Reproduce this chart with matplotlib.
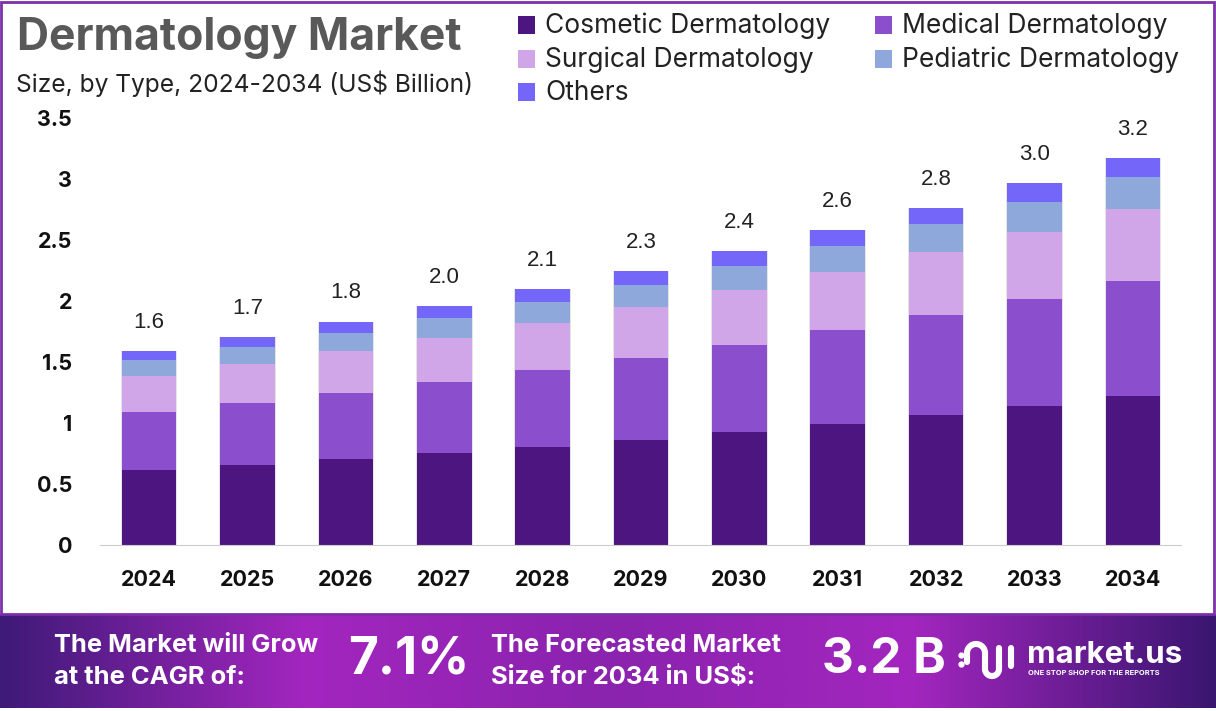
import numpy as np
import matplotlib
matplotlib.use("Agg")
import matplotlib.pyplot as plt
from matplotlib.colors import LinearSegmentedColormap
from matplotlib.patches import Rectangle

# values (US$ billion)
years = ["2024", "2025", "2026", "2027", "2028", "2029", "2030", "2031", "2032", "2033", "2034"]
cosmetic = [0.615, 0.655, 0.705, 0.755, 0.805, 0.86, 0.925, 0.99, 1.065, 1.14, 1.22]
medical = [0.475, 0.51, 0.54, 0.58, 0.63, 0.67, 0.715, 0.77, 0.82, 0.875, 0.945]
surgical = [0.295, 0.32, 0.345, 0.36, 0.385, 0.42, 0.45, 0.475, 0.515, 0.55, 0.59]
pediatric = [0.13, 0.14, 0.15, 0.165, 0.17, 0.185, 0.195, 0.215, 0.23, 0.245, 0.26]
others = [0.075, 0.08, 0.09, 0.095, 0.105, 0.11, 0.125, 0.13, 0.13, 0.155, 0.155]
totals = ["1.6", "1.7", "1.8", "2.0", "2.1", "2.3", "2.4", "2.6", "2.8", "3.0", "3.2"]
names = ["Cosmetic Dermatology", "Medical Dermatology", "Surgical Dermatology", "Pediatric Dermatology", "Others"]
colors = ["#4d1580", "#8b4fce", "#d0a6e8", "#8ea8dc", "#7466f8"]
yticks = [0, 0.5, 1, 1.5, 2, 2.5, 3, 3.5]
ylabels = ["0", "0.5", "1", "1.5", "2", "2.5", "3", "3.5"]

W, H = 1216, 711
fig = plt.figure(figsize=(W / 100, H / 100), dpi=100, facecolor="white")

# overlay in pixel coordinates for frame, band and header
bg = fig.add_axes([0, 0, 1, 1])
bg.axis("off")
bg.add_patch(Rectangle((1, 2), W - 3, 612, fill=False, ec="#7b2fa8", lw=2))
cmap = LinearSegmentedColormap.from_list("band", ["#3f1a78", "#a326bf", "#8a23ae", "#a326bf", "#3a1670"])
bg.imshow(np.linspace(0, 1, 512)[None, :], cmap=cmap, extent=(0, W, 708, 614), aspect="auto")

ax = fig.add_axes([100 / W, 1 - 545 / H, 1081 / W, 427 / H])
x = np.arange(len(years))
bottom = np.zeros(len(years))
for vals, name, col in zip([cosmetic, medical, surgical, pediatric, others], names, colors):
    ax.bar(x, vals, 0.575, bottom=bottom, color="#999999", alpha=0.25)
    ax.bar(x, vals, 0.555, bottom=bottom, color=col, label=name)
    bottom = bottom + np.array(vals)
for xi, top, lab in zip(x, bottom, totals):
    ax.text(xi, top + 0.15, lab, ha="center", va="bottom", fontsize=16, family="Liberation Sans", color="#222222")
ax.set_xlim(-0.5, 10.49)
ax.set_ylim(0, 3.5)
ax.set_xticks(x, years, fontsize=15.5, fontweight="bold", family="Inter", color="#111111")
ax.set_yticks(yticks, ylabels, fontsize=15.5, fontweight="bold", family="Inter", color="#111111")
ax.tick_params(length=0)
ax.tick_params(axis="x", pad=18)
ax.tick_params(axis="y", pad=20)
for s in ["top", "right", "left"]:
    ax.spines[s].set_visible(False)
ax.spines["bottom"].set_color("#cccccc")
ax.patch.set_alpha(0)

# header
bg.text(17, 38, "Dermatology Market", fontsize=32, fontweight="bold", family="Inter", color="#595959", va="center")
bg.text(16, 84, "Size, by Type, 2024-2034 (US$ Billion)", fontsize=17.7, family="Inter", color="#222222", va="center")
legend_pos = [(518, 25), (875, 25), (518, 59), (875, 59), (518, 92)]
for (lx, ly), name, col in zip(legend_pos, names, colors):
    bg.add_patch(Rectangle((lx, ly - 9), 17, 18, color=col, lw=0))
    bg.text(lx + 27, ly + 1, name, fontsize=19, family="Inter", color="#222222", va="center")

# bottom band
bg.text(54, 646, "The Market will Grow", fontsize=18.4, fontweight="bold", family="Inter", color="white", va="center")
bg.text(54, 677, "at the CAGR of:", fontsize=18.4, fontweight="bold", family="Inter", color="white", va="center")
bg.text(348, 661, "7.1%", fontsize=37, fontweight="bold", family="Inter", color="white", va="center")
bg.text(491, 646, "The Forecasted Market", fontsize=18.4, fontweight="bold", family="Inter", color="white", va="center")
bg.text(491, 677, "Size for 2034 in US$:", fontsize=18.4, fontweight="bold", family="Inter", color="white", va="center")
bg.text(822, 660, "3.2 B", fontsize=35.5, fontweight="bold", family="Inter", color="white", va="center")
bg.text(1027, 655, "market.us", fontsize=22.5, fontweight="bold", family="Inter", color="white", va="center")
bg.text(1028, 673, "ONE STOP SHOP FOR THE REPORTS", fontsize=5.4, fontweight="bold", family="Inter", color="white", va="center")

# logo mark, rough strokes
t = np.linspace(np.pi, 0, 30)
u = np.linspace(np.pi, 2 * np.pi, 30)
lw = 4.4
bg.plot(976 + 9 * np.cos(t), 653 - 9 * np.sin(t), color="white", lw=lw, solid_capstyle="round")
bg.plot([967, 967], [653, 662], color="white", lw=lw, solid_capstyle="round")
bg.plot([985, 985], [653, 669], color="white", lw=lw, solid_capstyle="round")
bg.plot(992 + 7 * np.cos(u), 669 - 7 * np.sin(u), color="white", lw=lw, solid_capstyle="round")
bg.plot([999, 999], [669, 648], color="white", lw=lw, solid_capstyle="round")
bg.plot([1011, 1011], [666, 648], color="white", lw=lw, solid_capstyle="round")
bg.plot([961, 961], [655, 664], color="white", lw=0, marker="o", ms=3.5)
bg.set_xlim(0, W)
bg.set_ylim(H, 0)

fig.savefig("out.png", dpi=100)
